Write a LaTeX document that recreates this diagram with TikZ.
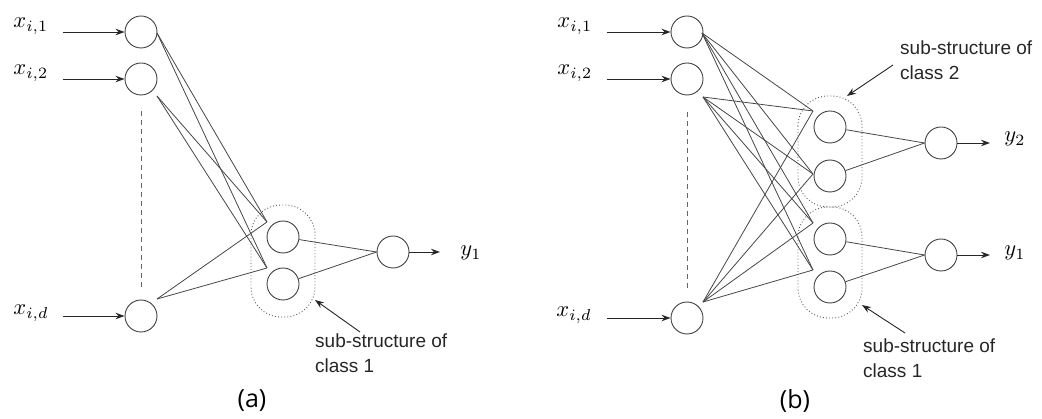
\documentclass[tikz,border=0pt]{standalone}
\usepackage{fontspec}
\newfontfamily\annfont{Liberation Sans}
\newfontfamily\capfont{Open Sans}
\usetikzlibrary{arrows.meta,calc}

\begin{document}
\begin{tikzpicture}[x=1pt,y=-1pt,
  neuron/.style={circle,draw=black!75,line width=0.9pt,minimum size=32pt,inner sep=0pt},
  link/.style={draw=black!72,line width=0.8pt},
  feed/.style={draw=black!85,line width=0.9pt,-{Stealth[length=9pt,width=6.5pt]}},
  group/.style={draw=black!65,line width=0.9pt,dash pattern=on 0.9pt off 2.2pt,rounded corners=30pt},
  guide/.style={draw=black!60,line width=0.9pt,dash pattern=on 5pt off 4pt},
  note/.style={font=\annfont\fontsize{19}{25}\selectfont,align=left,anchor=north west,inner sep=0pt,text=black!85},
  var/.style={scale=2.25,inner sep=0pt,anchor=base west},
  caption/.style={font=\capfont\fontsize{25}{30}\selectfont,inner sep=0pt}
]
\useasboundingbox (0,0) rectangle (1042,419);

% ---------------- panel (a): single class ----------------
\node[neuron] (a1) at (141,32) {};
\node[neuron] (a2) at (141,79) {};
\node[neuron] (ad) at (141,316) {};
\node[neuron] (ah1) at (283,237) {};
\node[neuron] (ah2) at (283,284) {};
\node[neuron] (ay) at (393,252) {};

\node[var] (la1) at (13,28) {$x_{i,1}$};
\node[var] (la2) at (13,75) {$x_{i,2}$};
\node[var] (lad) at (13,315) {$x_{i,d}$};
\node[var] (lay) at (460,256) {$y_1$};

\coordinate (a1in) at (63,32);
\coordinate (a2in) at (63,79);
\coordinate (adin) at (63,316);
\draw[feed] (a1in) -- (a1);
\draw[feed] (a2in) -- (a2);
\draw[feed] (adin) -- (ad);

\draw[guide] ($(a2.south)+(0,16)$) -- ($(ad.north)+(0,-12)$);

% fan-out points of the inputs and fan-in points of the hidden units
\coordinate (a1o) at (157,33);
\coordinate (a2o) at (157,96);
\coordinate (ado) at (157,299);
\coordinate (ah1i) at (267,222);
\coordinate (ah2i) at (267,268);
\foreach \s in {a1o,a2o,ado}
  \foreach \t in {ah1i,ah2i}
    \draw[link] (\s) -- (\t);

\draw[link] (ah1) -- (ay.west);
\draw[link] (ah2) -- (ay.west);
\coordinate (ayout) at (440,252);
\draw[feed] (ay) -- (ayout);

\draw[group] (251,205) rectangle (315,317);
\node[note] (na) at (315,334) {sub-structure of\\class 1};
\coordinate (natail) at (360,332);
\coordinate (natip) at (315,300);
\draw[feed] (natail) -- (natip);

\node[caption] (capa) at (252,401) {(a)};

% ---------------- panel (b): two classes ----------------
\node[neuron] (b1) at (687,32) {};
\node[neuron] (b2) at (687,79) {};
\node[neuron] (bd) at (687,318) {};
\node[neuron] (p1) at (830,127) {};
\node[neuron] (p2) at (830,176) {};
\node[neuron] (q1) at (830,239) {};
\node[neuron] (q2) at (830,287) {};
\node[neuron] (by2) at (941,143) {};
\node[neuron] (by1) at (941,255) {};

\node[var] (lb1) at (557,28) {$x_{i,1}$};
\node[var] (lb2) at (557,75) {$x_{i,2}$};
\node[var] (lbd) at (556,317) {$x_{i,d}$};
\node[var] (lby2) at (1004,142) {$y_2$};
\node[var] (lby1) at (1004,256) {$y_1$};

\coordinate (b1in) at (607,32);
\coordinate (b2in) at (607,79);
\coordinate (bdin) at (607,318);
\draw[feed] (b1in) -- (b1);
\draw[feed] (b2in) -- (b2);
\draw[feed] (bdin) -- (bd);

\draw[guide] ($(b2.south)+(0,17)$) -- ($(bd.north)+(0,-14)$);

\coordinate (b1o) at (702,33);
\coordinate (b2o) at (703,97);
\coordinate (bdo) at (703,302);
\coordinate (p1i) at (813,111);
\coordinate (p2i) at (813,174);
\coordinate (q1i) at (813,223);
\coordinate (q2i) at (813,270);
\foreach \s in {b1o,b2o,bdo}
  \foreach \t in {p1i,p2i,q1i,q2i}
    \draw[link] (\s) -- (\t);

\draw[link] (p1) -- (by2.west);
\draw[link] (p2) -- (by2.west);
\draw[link] (q1) -- (by1.west);
\draw[link] (q2) -- (by1.west);
\coordinate (by2out) at (990,143);
\coordinate (by1out) at (990,255);
\draw[feed] (by2) -- (by2out);
\draw[feed] (by1) -- (by1out);

\draw[group] (798,96) rectangle (862,207);
\draw[group] (798,207) rectangle (862,318);

\node[note] (nb2) at (900,41) {sub-structure of\\class 2};
\coordinate (nb2tail) at (893,65);
\coordinate (nb2tip) at (847,96);
\draw[feed] (nb2tail) -- (nb2tip);

\node[note] (nb1) at (863,339) {sub-structure of\\class 1};
\coordinate (nb1tail) at (905,333);
\coordinate (nb1tip) at (862,305);
\draw[feed] (nb1tail) -- (nb1tip);

\node[caption] (capb) at (795,401) {(b)};
\end{tikzpicture}
\end{document}
